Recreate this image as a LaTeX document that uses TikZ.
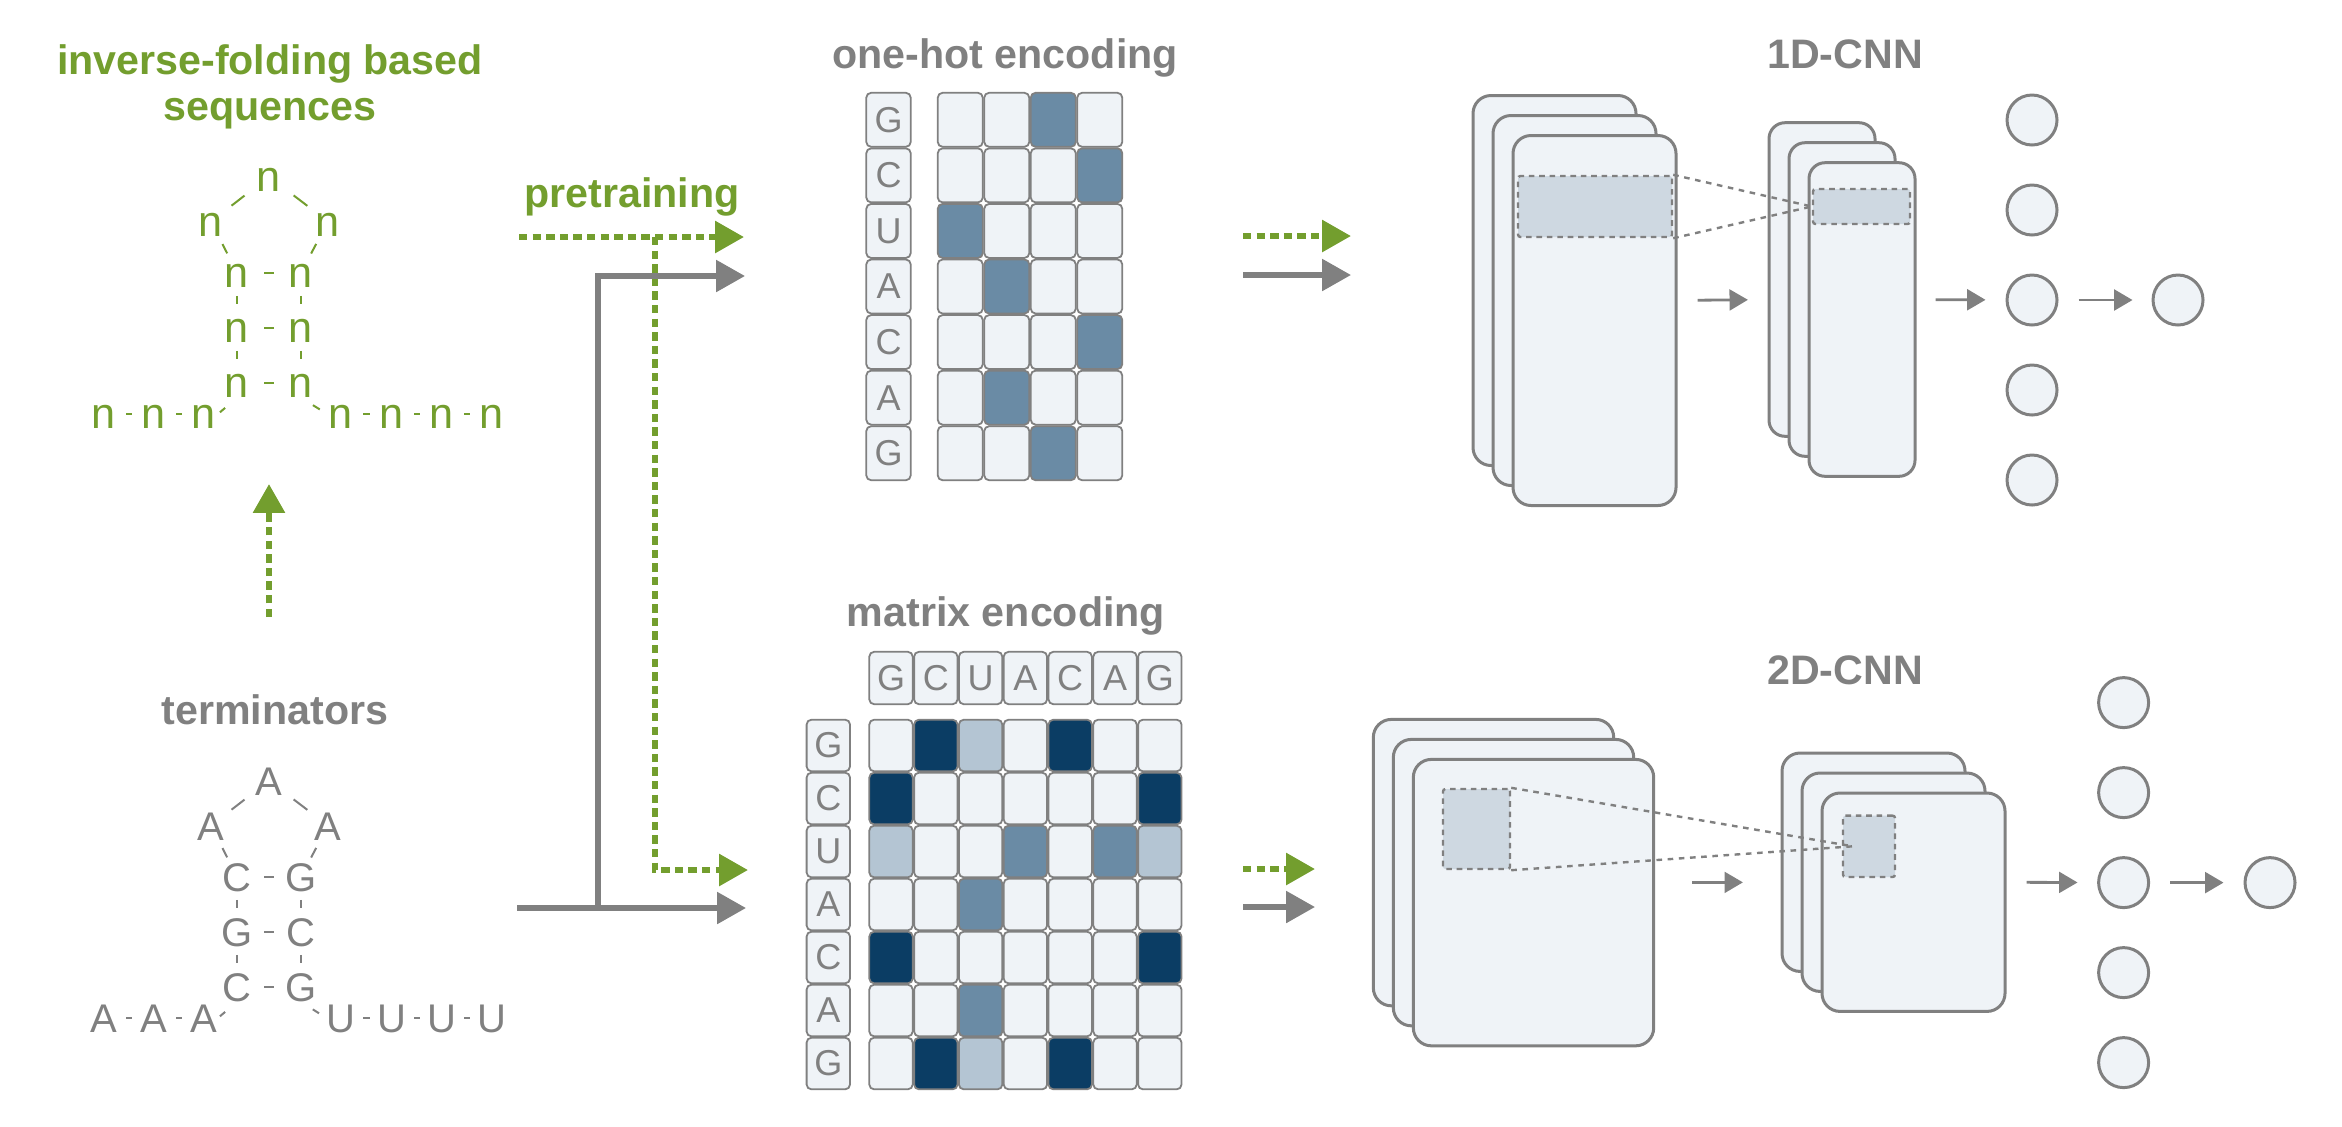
\documentclass[tikz,border=0pt]{standalone}
\usepackage{fontspec}
\setmainfont{Liberation Sans}
\usetikzlibrary{arrows.meta,positioning}

\definecolor{leaf}{RGB}{115,158,46}
\definecolor{ash}{RGB}{128,128,128}
\definecolor{paper}{RGB}{239,243,247}
\definecolor{hlbg}{RGB}{206,216,225}
\definecolor{navy}{RGB}{11,61,100}
\definecolor{steel}{RGB}{106,139,165}
\definecolor{pale}{RGB}{180,197,211}
% base pair colours for the matrix encoding
\colorlet{GC}{navy}\colorlet{CG}{navy}
\colorlet{AU}{steel}\colorlet{UA}{steel}
\colorlet{GU}{pale}\colorlet{UG}{pale}
\colorlet{AA}{paper}\colorlet{AC}{paper}\colorlet{AG}{paper}\colorlet{CA}{paper}\colorlet{CC}{paper}
\colorlet{CU}{paper}\colorlet{GA}{paper}\colorlet{GG}{paper}\colorlet{UC}{paper}\colorlet{UU}{paper}

\tikzset{
  heading/.style={font=\fontsize{10.3}{11.5}\selectfont\bfseries, inner sep=0pt},
  nuc/.style={font=\fontsize{10}{12}\selectfont, anchor=base, inner sep=0pt,
    minimum width=6.8pt, text height=7.2pt, text depth=0pt},
  bond/.style 2 args={line width=0.5pt, shorten <=#1, shorten >=#2},
  cell/.style={draw=ash, fill=paper, text=ash, rounded corners=1.2pt, line width=0.45pt,
    inner sep=0pt, font=\fontsize{9}{10}\selectfont},
  fmap/.style={draw=ash, fill=paper, line width=0.75pt, rounded corners=4.5pt},
  window/.style={draw=ash, fill=hlbg, line width=0.6pt, dash pattern=on 1.4pt off 1.2pt,
    rounded corners=0.6pt},
  neuron/.style={circle, draw=ash, fill=paper, line width=0.75pt, minimum size=12.5pt, inner sep=0pt},
  flow/.style={draw=ash, line width=1.4pt, -{Triangle[length=7.2pt,width=7.7pt]}},
  pre/.style={draw=leaf, line width=1.5pt, dash pattern=on 2.1pt off 1.3pt,
    -{Triangle[length=7.2pt,width=7.7pt]}},
  link/.style={draw=ash, line width=0.7pt, -{Triangle[length=4.6pt,width=5.2pt]}},
  proj/.style={draw=ash, line width=0.6pt, dash pattern=on 1.4pt off 1.4pt},
}

% hairpin: #1 name prefix, #2 baseline of the loop top, #3 scope style, #4 letters
\newcommand\hairpin[4]{%
  \begin{scope}[#3]
    \foreach \nt [count=\k from 0] in {#4} {
      \pgfmathsetmacro\hx{{269,211,328,237,301,237,301,237,301,104,154,204,341,392,442,492}[\k]}
      \pgfmathsetmacro\hy{{0,45,45,96,96,151,151,206,206,237,237,237,237,237,237,237}[\k]+#2}
      \node[nuc] (#1\k) at (\hx,\hy) {\nt};
    }
    \draw[bond={7.75pt}{6.5pt}] (#10.center) -- (#11.center);
    \draw[bond={7.75pt}{6.5pt}] (#10.center) -- (#12.center);
    \draw[bond={6.3pt}{5.4pt}] (#11.center) -- (#13.center);
    \draw[bond={6.3pt}{5.4pt}] (#12.center) -- (#14.center);
    \foreach \p/\q in {3/4,5/6,7/8}
      \draw[bond={6.75pt}{6.75pt}] (#1\p.center) -- (#1\q.center);
    \foreach \p/\q in {3/5,5/7,4/6,6/8}
      \draw[bond={5.8pt}{5.8pt}] (#1\p.center) -- (#1\q.center);
    \foreach \p/\q in {9/10,10/11,12/13,13/14,14/15}
      \draw[bond={5.5pt}{5.5pt}] (#1\p.center) -- (#1\q.center);
    \draw[bond={0.5pt}{3.9pt}] (#111.east) -- (#17.south);
    \draw[bond={3.5pt}{2pt}] (#18.south) -- (#112.west);
  \end{scope}
}

\begin{document}
\begin{tikzpicture}[x=0.25pt, y=-0.25pt]
\useasboundingbox (0,0) rectangle (2342,1126);

% sequences
\node[heading, text=leaf, align=center, anchor=north] (inv) at (270,44) {inverse-folding based\\sequences};
\hairpin{n}{191}{color=leaf, nuc/.append style={font=\fontsize{10.8}{12}\selectfont}}{n,n,n,n,n,n,n,n,n,n,n,n,n,n,n,n}
\node[heading, text=ash, anchor=base] (term) at (275,724) {terminators};
\hairpin{t}{795}{color=ash}{A,A,A,C,G,G,C,C,G,A,A,A,U,U,U,U}

\coordinate (inv-s) at (269,617);
\coordinate (inv-e) at (269,484);
\draw[pre] (inv-s) -- (inv-e);

% pretraining and training routes
\node[heading, text=leaf, anchor=base] (pretrain) at (632,207) {pretraining};
\coordinate (pre-s) at (519,237);
\coordinate (pre-fork) at (655,237);
\coordinate (oh-pin) at (744,237);
\coordinate (mx-pin) at (748,870);
\coordinate (term-s) at (517,908);
\coordinate (fork) at (598,908);
\coordinate (oh-in) at (745,276);
\coordinate (mx-in) at (746,908);
\draw[pre] (pre-s) -- (oh-pin);
\draw[pre] (pre-fork) |- (mx-pin);
\draw[flow] (term-s) -- (mx-in);
\draw[flow] (fork) |- (oh-in);

% one-hot encoding
\node[heading, text=ash, anchor=base] (oh-title) at (1005,68) {one-hot encoding};
\foreach \nt [count=\ri from 0] in {G,C,U,A,C,A,G} {
  \node[cell, minimum width=11.1pt, minimum height=13.5pt] (oh-\ri) at (888.5,119.8+55.57*\ri) {\nt};
  \foreach \mt [count=\ci from 0] in {U,A,G,C} {
    \ifx\nt\mt \def\tone{steel}\else\def\tone{paper}\fi
    \node[cell, fill=\tone, minimum width=11.25pt, minimum height=13.5pt] (oh-\ri-\ci) at (960.25+46.5*\ci,119.8+55.57*\ri) {};
  }
}

% matrix encoding
\node[heading, text=ash, anchor=base] (mx-title) at (1006,626) {matrix encoding};
\foreach \mt [count=\ci from 0] in {G,C,U,A,C,A,G}
  \node[cell, minimum width=10.85pt, minimum height=13.1pt] (mx-t\ci) at (891+44.8*\ci,678) {\mt};
\foreach \nt [count=\ri from 0] in {G,C,U,A,C,A,G} {
  \node[cell, minimum width=10.85pt, minimum height=12.9pt] (mx-\ri) at (828.3,745.5+53*\ri) {\nt};
  \foreach \mt [count=\ci from 0] in {G,C,U,A,C,A,G}
    \node[cell, fill=\nt\mt, minimum width=10.85pt, minimum height=12.9pt] (mx-\ri-\ci) at (891+44.8*\ci,745.5+53*\ri) {};
}

\coordinate (oh-p1) at (1243,236);
\coordinate (oh-p2) at (1351,236);
\coordinate (oh-t1) at (1243,275);
\coordinate (oh-t2) at (1351,275);
\coordinate (mx-p1) at (1243,869);
\coordinate (mx-p2) at (1315,869);
\coordinate (mx-t1) at (1243,907);
\coordinate (mx-t2) at (1315,907);
\draw[pre] (oh-p1) -- (oh-p2);
\draw[flow] (oh-t1) -- (oh-t2);
\draw[pre] (mx-p1) -- (mx-p2);
\draw[flow] (mx-t1) -- (mx-t2);

% 1D-CNN
\node[heading, text=ash, anchor=base] (cnn1) at (1845,68) {1D-CNN};
\foreach \k in {0,1,2}
  \node[fmap, minimum width=40.75pt, minimum height=92.5pt] (a\k) at (1554.5+20*\k,280.5+20*\k) {};
\node[window, minimum width=38.5pt, minimum height=15.25pt] (a-win) at (1595,206.5) {};
\foreach \k in {0,1,2}
  \node[fmap, minimum width=26.5pt, minimum height=78.4pt, rounded corners=4pt] (b\k) at (1822+20*\k,279.5+20*\k) {};
\node[window, minimum width=24.25pt, minimum height=8.75pt] (b-win) at (1861.5,206.5) {};
\draw[proj] (a-win.north east) -- (b-win.west);
\draw[proj] (a-win.south east) -- (b-win.west);
\draw[link, shorten <=10pt, shorten >=9.9pt] (a1.east) -- (b1.west);
\foreach \k in {0,...,4}
  \node[neuron] (d\k) at (2032,120+90*\k) {};
\node[neuron, right=23.25pt of d2] (d-out) {};
\draw[link, shorten <=9.75pt, shorten >=5pt] (b1.east) -- (d2);
\draw[link, shorten <=5pt, shorten >=4.75pt] (d2) -- (d-out);

% 2D-CNN
\node[heading, text=ash, anchor=base] (cnn2) at (1845,684.5) {2D-CNN};
\foreach \k in {0,1,2}
  \node[fmap, minimum width=60.1pt, minimum height=71.6pt] (p\k) at (1493.5+20*\k,862.6+20*\k) {};
\node[window, minimum width=16.75pt, minimum height=20pt] (p-win) at (1476.5,829) {};
\foreach \k in {0,1,2}
  \node[fmap, minimum width=45.75pt, minimum height=54.6pt] (q\k) at (1873.5+20*\k,862.2+20*\k) {};
\node[window, minimum width=13pt, minimum height=15.35pt] (q-win) at (1869,846.3) {};
\draw[proj] (p-win.north east) -- ([xshift=2.75pt]q-win.west);
\draw[proj] (p-win.south east) -- ([xshift=2.75pt]q-win.west);
\draw[link, shorten <=14.25pt, shorten >=14.4pt] (p1.east) -- (q1.west);
\foreach \k in {0,...,4}
  \node[neuron] (e\k) at (2123.6,702.6+90*\k) {};
\node[neuron, right=23.35pt of e2] (e-out) {};
\draw[link, shorten <=10pt, shorten >=4.9pt] (q1.east) -- (e2);
\draw[link, shorten <=5pt, shorten >=5pt] (e2) -- (e-out);

\end{tikzpicture}
\end{document}
